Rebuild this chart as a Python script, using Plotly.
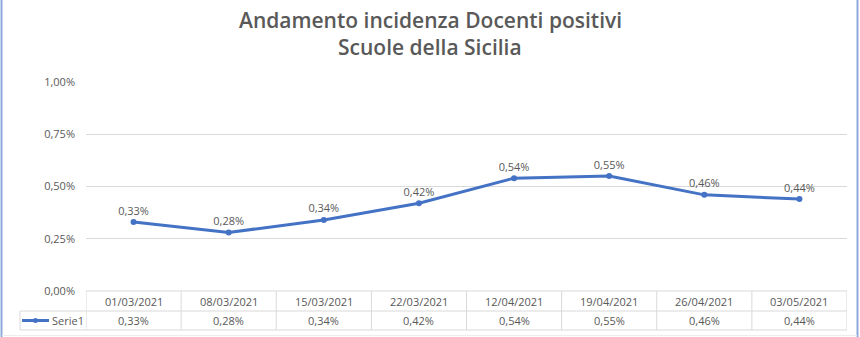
import plotly.graph_objects as go

dates = ["01/03/2021", "08/03/2021", "15/03/2021", "22/03/2021",
         "12/04/2021", "19/04/2021", "26/04/2021", "03/05/2021"]
values = [0.0033, 0.0028, 0.0034, 0.0042, 0.0054, 0.0055, 0.0046, 0.0044]
series_name = "Serie1"
title_lines = ["Andamento incidenza Docenti positivi", "Scuole della Sicilia"]
y_ticks = [0, 0.0025, 0.005, 0.0075, 0.01]

W, H = 860, 337
L, R, T, B = 86, 13, 82, 46
PW = W - L - R
PH = H - T - B
FONT = "Open Sans"
GRAY = "#595959"
LINE = "#D9D9D9"
BLUE = "#4472C4"


def xp(px):
    return (px - L) / PW


def yp(py):
    return (H - B - py) / PH


def pct(v):
    return f"{v*100:.2f}%".replace(".", ",")


fig = go.Figure()
fig.add_trace(go.Scatter(
    x=dates, y=values, mode="lines+markers+text",
    line=dict(color=BLUE, width=3), marker=dict(color=BLUE, size=6),
    text=[pct(v) for v in values], textposition="top center",
    textfont=dict(family=FONT, size=11, color=GRAY),
    cliponaxis=False, showlegend=False, name=series_name,
))

shapes = []
annotations = []
row1_top, row1_bot, row2_bot = 291, 311, 330
# horizontal table lines
shapes.append(dict(type="line", xref="paper", yref="paper", x0=0, x1=1,
                   y0=yp(row1_top), y1=yp(row1_top), line=dict(color=LINE, width=1)))
shapes.append(dict(type="line", xref="paper", yref="paper", x0=xp(20), x1=1,
                   y0=yp(row1_bot), y1=yp(row1_bot), line=dict(color=LINE, width=1)))
shapes.append(dict(type="line", xref="paper", yref="paper", x0=xp(20), x1=1,
                   y0=yp(row2_bot), y1=yp(row2_bot), line=dict(color=LINE, width=1)))
# vertical table lines at category boundaries
for i in range(len(dates) + 1):
    shapes.append(dict(type="line", xref="x", yref="paper", x0=i - 0.5, x1=i - 0.5,
                       y0=yp(row1_top), y1=yp(row2_bot), line=dict(color=LINE, width=1)))
shapes.append(dict(type="line", xref="paper", yref="paper", x0=xp(20), x1=xp(20),
                   y0=yp(row1_bot), y1=yp(row2_bot), line=dict(color=LINE, width=1)))
# legend key in table
ly = yp((row1_bot + row2_bot) / 2)
shapes.append(dict(type="line", xref="paper", yref="paper", x0=xp(22), x1=xp(49),
                   y0=ly, y1=ly, line=dict(color=BLUE, width=3)))
shapes.append(dict(type="circle", xref="paper", yref="paper", x0=xp(33), x1=xp(38),
                   y0=yp((row1_bot + row2_bot) / 2 + 2.5), y1=yp((row1_bot + row2_bot) / 2 - 2.5),
                   fillcolor=BLUE, line=dict(color=BLUE, width=0)))
annotations.append(dict(xref="paper", yref="paper", x=xp(50), y=ly, text=series_name,
                        showarrow=False, xanchor="left", yanchor="middle",
                        font=dict(family=FONT, size=11, color=GRAY)))
for d, v in zip(dates, values):
    annotations.append(dict(xref="x", yref="paper", x=d, y=yp((row1_top + row1_bot) / 2),
                            text=d, showarrow=False, yanchor="middle",
                            font=dict(family=FONT, size=11, color=GRAY)))
    annotations.append(dict(xref="x", yref="paper", x=d, y=ly,
                            text=pct(v), showarrow=False, yanchor="middle",
                            font=dict(family=FONT, size=11, color=GRAY)))
# title
for line_txt, py in zip(title_lines, [20, 47]):
    annotations.append(dict(xref="paper", yref="paper", x=xp(430), y=yp(py),
                            text=line_txt, showarrow=False, xanchor="center", yanchor="middle",
                            font=dict(family=FONT, size=21, color=GRAY, weight=600)))
# outer frame (blue selection border)
shapes.append(dict(type="line", xref="paper", yref="paper", x0=xp(1.5), x1=xp(1.5),
                   y0=yp(0), y1=yp(337), line=dict(color="#8EA9DB", width=2)))
shapes.append(dict(type="line", xref="paper", yref="paper", x0=xp(857.5), x1=xp(857.5),
                   y0=yp(0), y1=yp(337), line=dict(color="#8EA9DB", width=2)))
shapes.append(dict(type="line", xref="paper", yref="paper", x0=xp(2), x1=xp(857),
                   y0=yp(335.5), y1=yp(335.5), line=dict(color="#EDEDED", width=1)))

fig.update_layout(
    width=W, height=H, margin=dict(l=L, r=R, t=T, b=B),
    paper_bgcolor="white", plot_bgcolor="white",
    separators=",.",
    shapes=shapes, annotations=annotations,
    xaxis=dict(type="category", range=[-0.5, len(dates) - 0.5], showticklabels=False,
               showgrid=False, zeroline=False, showline=False, fixedrange=True),
    yaxis=dict(range=[0, 0.01], tickvals=y_ticks, tickformat=".2%",
               tickfont=dict(family=FONT, size=11, color=GRAY),
               gridcolor=LINE, gridwidth=1, zeroline=False, showline=False,
               ticklabelstandoff=10, fixedrange=True),
)

fig.write_html("out.html")
